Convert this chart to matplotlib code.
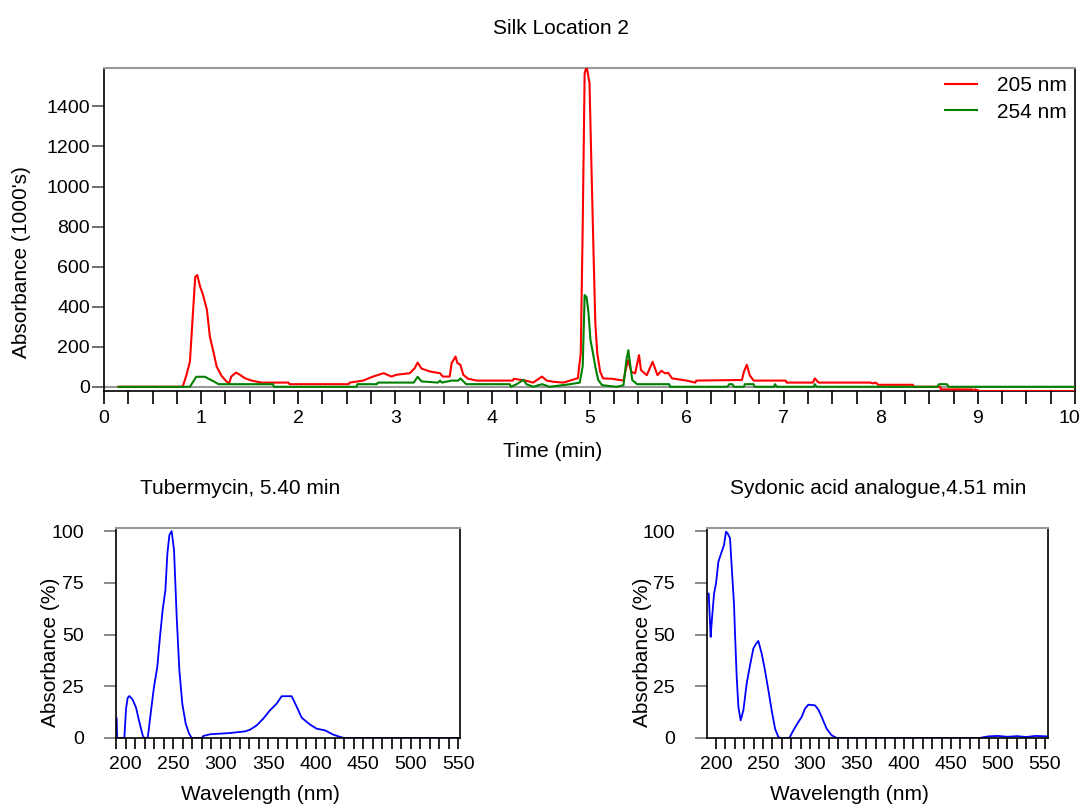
import matplotlib
matplotlib.use('Agg')
import matplotlib.pyplot as plt
from matplotlib.ticker import MultipleLocator
from matplotlib.transforms import ScaledTranslation

plt.rcParams['font.family'] = ['Liberation Sans', 'DejaVu Sans']

# Chromatogram, 205 nm trace (time in min, absorbance in 1000's)
t205 = [
    0.15, 0.81, 0.85, 0.885, 0.92, 0.94, 0.96, 0.99, 1.02, 1.06,
    1.09, 1.13, 1.16, 1.21, 1.26, 1.29, 1.31, 1.36, 1.40, 1.45,
    1.52, 1.62, 1.90, 1.91, 2.52, 2.53, 2.67, 2.77, 2.88, 2.96,
    3.01, 3.15, 3.20, 3.23, 3.27, 3.36, 3.46, 3.49, 3.56, 3.58,
    3.62, 3.64, 3.67, 3.70, 3.75, 3.84, 4.21, 4.22, 4.34, 4.42,
    4.51, 4.56, 4.63, 4.73, 4.80, 4.88, 4.91, 4.93, 4.95, 4.97,
    5.00, 5.02, 5.04, 5.06, 5.08, 5.11, 5.14, 5.23, 5.35, 5.38,
    5.40, 5.43, 5.47, 5.51, 5.53, 5.59, 5.65, 5.70, 5.74, 5.78,
    5.81, 5.85, 6.00, 6.09, 6.10, 6.57, 6.59, 6.62, 6.65, 6.69,
    7.02, 7.03, 7.30, 7.32, 7.36, 7.89, 7.92, 7.94, 7.96, 7.97,
    8.33, 8.34, 8.61, 8.62, 8.94, 8.95, 8.97, 9.02, 10.0]
a205 = [
    0, 0, 60, 126, 400, 550, 558, 500, 459, 384,
    251, 168, 101, 55, 27, 18, 51, 71, 60, 43,
    31, 21, 21, 13, 13, 21, 31, 51, 68, 51,
    60, 68, 93, 121, 91, 76, 68, 51, 51, 118,
    151, 118, 110, 60, 40, 31, 31, 40, 31, 21,
    51, 31, 25, 21, 31, 43, 168, 800, 1565, 1600,
    1517, 1100, 700, 317, 167, 75, 42, 40, 31, 100,
    133, 75, 67, 158, 83, 58, 125, 58, 80, 67,
    70, 42, 31, 21, 31, 34, 75, 110, 58, 31,
    31, 21, 21, 42, 21, 21, 17, 21, 17, 10,
    10, 0, 0, -13, -13, -21, -13, -21, -21]

# Chromatogram, 254 nm trace
t254 = [
    0.15, 0.885, 0.95, 1.04, 1.07, 1.13, 1.18, 1.74, 1.75, 2.60,
    2.61, 2.81, 2.82, 3.19, 3.23, 3.27, 3.44, 3.46, 3.48, 3.58,
    3.65, 3.67, 3.73, 4.18, 4.19, 4.25, 4.32, 4.35, 4.42, 4.51,
    4.59, 4.80, 4.90, 4.93, 4.95, 4.97, 4.99, 5.01, 5.03, 5.06,
    5.09, 5.13, 5.28, 5.35, 5.38, 5.40, 5.42, 5.44, 5.49, 5.82,
    5.83, 6.42, 6.44, 6.47, 6.49, 6.59, 6.60, 6.69, 6.70, 6.90,
    6.91, 6.93, 7.31, 7.32, 7.34, 8.58, 8.60, 8.68, 8.70, 10.0]
a254 = [
    0, 0, 50, 50, 42, 27, 13, 13, 0, 0,
    13, 13, 21, 21, 50, 27, 21, 31, 21, 31,
    31, 42, 13, 13, 0, 13, 35, 13, 0, 13,
    0, 13, 21, 103, 458, 448, 367, 234, 183, 100,
    34, 8, 0, 8, 133, 183, 108, 34, 13, 13,
    0, 0, 13, 13, 0, 0, 13, 13, 0, 0,
    13, 0, 0, 13, 0, 0, 13, 13, 0, 0]

# UV spectrum of the 5.40 min peak
wl_tub = [
    190.5, 191.0, 198.6, 200.4, 202.1, 203.9, 207.4, 210.9, 214.4, 217.9,
    219.3, 223.2, 226.3, 229.8, 233.3, 236.1, 238.9, 241.8, 243.9, 246.0,
    248.4, 250.9, 253.7, 256.5, 259.6, 263.2, 266.7, 269.5, 280.0, 281.8,
    288.8, 309.8, 325.6, 330.9, 337.9, 344.9, 351.9, 358.9, 364.2, 374.7,
    379.3, 385.3, 394.0, 401.0, 409.8, 418.6, 427.4, 430.0, 552.0]
ab_tub = [
    9.4, 0, 0, 14.2, 19.4, 20.3, 18.5, 14.7, 7.7, 1.3,
    0, 0, 11.8, 24.7, 34.4, 48.9, 61.8, 71.5, 89.2, 98.1,
    100, 90.8, 58.5, 32.7, 16.6, 6.9, 2.1, 0, 0, 1.0,
    1.8, 2.4, 3.2, 4.0, 6.1, 9.4, 13.4, 16.6, 20.2, 20.2,
    15.8, 9.8, 6.5, 4.5, 3.7, 1.6, 0.3, 0, 0]

# UV spectrum of the 4.51 min peak
wl_syd = [
    192.2, 194.3, 195.4, 197.9, 200.0, 202.5, 206.0, 208.5, 210.6, 212.4,
    214.9, 216.7, 219.1, 220.2, 222.0, 223.8, 226.2, 229.1, 232.6, 236.2,
    239.7, 242.6, 245.0, 248.6, 252.1, 255.7, 259.2, 262.8, 266.3, 268.8,
    278.0, 282.3, 287.6, 291.1, 294.7, 298.2, 305.3, 308.9, 312.4, 317.7,
    323.0, 328.4, 480.0, 490.0, 500.0, 510.0, 520.0, 530.0, 540.0, 552.0]
ab_syd = [
    69.8, 48.9, 56.0, 69.8, 74.7, 85.2, 90.0, 93.2, 99.7, 98.9,
    96.5, 82.7, 65.0, 50.5, 29.5, 15.0, 8.5, 13.4, 26.3, 35.2,
    43.2, 45.6, 46.9, 40.8, 32.7, 23.1, 13.4, 4.5, 0.5, 0,
    0, 3.7, 7.7, 10.2, 14.2, 16.1, 15.8, 13.7, 10.2, 4.5,
    1.3, 0, 0, 0.8, 1.0, 0.6, 0.9, 0.5, 1.0, 0.8]

W, H = 1082, 806
FS = 14      # tick labels
LFS = 15     # axis labels, titles, legend


def box(left, top, right, bottom):
    """Axes rectangle from pixel edges."""
    return [left / W, 1 - bottom / H, (right - left) / W, (bottom - top) / H]


def style_frame(ax):
    for side in ('left', 'right', 'bottom'):
        ax.spines[side].set_color('black')
        ax.spines[side].set_linewidth(1.2)
    ax.spines['top'].set_color('#999999')
    ax.spines['top'].set_linewidth(1.5)


fig = plt.figure(figsize=(W / 100, H / 100), dpi=100)

# Chromatogram
ax = fig.add_axes(box(104, 68, 1075, 391))
ax.axhline(0, color='#999999', lw=1.5, zorder=1)
ax.plot(t205, a205, color='#ff0000', lw=1.5, label='205 nm', zorder=3)
ax.plot(t254, a254, color='#008000', lw=1.5, label='254 nm', zorder=3)
ax.set_xlim(0, 10)
ax.set_ylim(-21, 1592)
ax.set_xticks(range(0, 11))
ax.xaxis.set_minor_locator(MultipleLocator(0.25))
ax.set_yticks(range(0, 1401, 200))
ax.tick_params(axis='x', which='both', direction='out', length=9,
               width=1.2, labelsize=FS, pad=5)
ax.tick_params(axis='y', direction='out', length=9, width=1.2,
               color='#555555', labelsize=FS, pad=1)
style_frame(ax)

# keep the "10" label inside the figure edge
last = ax.xaxis.get_major_ticks()[-1].label1
last.set_transform(last.get_transform()
                   + ScaledTranslation(-4 / 72, 0, fig.dpi_scale_trans))

ax.set_xlabel('Time (min)', fontsize=LFS, va='center')
ax.xaxis.set_label_coords(0.462, -0.186)
ax.set_ylabel("Absorbance (1000's)", fontsize=LFS, va='center')
ax.yaxis.set_label_coords(-0.0845, 0.40)
ax.legend(loc='upper right', frameon=False, fontsize=LFS,
          handlelength=1.55, handletextpad=0.95, labelspacing=0.35,
          borderaxespad=0.0, borderpad=0.4)

fig.text(561 / W, 1 - 28 / H, 'Silk Location 2', fontsize=LFS,
         ha='center', va='center')

# UV spectra
spectra = [
    (box(115.7, 528, 460, 738), wl_tub, ab_tub, (189.5, 551.9),
     'Tubermycin, 5.40 min', 240),
    (box(707, 528, 1048, 738), wl_syd, ab_syd, (190.4, 553.2),
     'Sydonic acid analogue,4.51 min', 878),
]
for rect, wl, ab, xlim, title, title_x in spectra:
    sx = fig.add_axes(rect)
    sx.plot(wl, ab, color='#0000ff', lw=1.3)
    sx.set_xlim(*xlim)
    sx.set_ylim(0, 101.5)
    sx.set_xticks(range(200, 551, 50))
    sx.xaxis.set_minor_locator(MultipleLocator(10))
    sx.set_yticks([0, 25, 50, 75, 100])
    sx.tick_params(axis='x', which='both', direction='out', length=8,
                   width=1.2, labelsize=FS, pad=5)
    sx.tick_params(axis='y', direction='out', length=9, width=1.2,
                   color='#777777', labelsize=FS, pad=14)
    style_frame(sx)
    sx.set_xlabel('Wavelength (nm)', fontsize=LFS, va='center')
    sx.xaxis.set_label_coords(0.419, -0.271)
    sx.set_ylabel('Absorbance (%)', fontsize=LFS, va='center')
    sx.yaxis.set_label_coords(-0.188, 0.407)
    fig.text(title_x / W, 1 - 488 / H, title, fontsize=LFS,
             ha='center', va='center')

fig.savefig('out.png', dpi=100)
